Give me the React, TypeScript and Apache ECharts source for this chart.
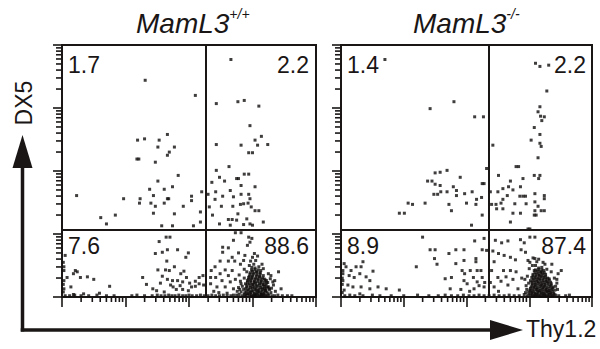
import React, { useEffect, useRef } from "react";
import * as echarts from "echarts";

// Axis scale: log10 fluorescence, 4 decades
const decadeTicks = [0, 1, 2, 3, 4];
const minorMultipliers = [2, 3, 4, 5, 6, 7, 8, 9];

const panelTitles = ["MamL3", "MamL3"];
const panelSups = ["+/+", "-/-"];
const xAxisName = "Thy1.2";
const yAxisName = "DX5";

// quadrant percentages: UL, UR, LL, LR
const quadWT = ["1.7", "2.2", "7.6", "88.6"];
const quadKO = ["1.4", "2.2", "8.9", "87.4"];

// gate positions [x, y] in log decades
const gateWT = [2.27, 1.06];
const gateKO = [2.35, 1.06];

// events [log Thy1.2, log DX5]
const eventsWT: number[][] = [
  // upper-left
  [1.31, 3.44], [2.10, 3.20], [0.23, 1.61], [1.19, 2.49], [1.30, 2.51], [1.53, 2.49], [1.66, 2.58], [1.51, 2.38],
  [1.77, 2.38], [1.69, 2.30], [1.66, 2.25], [1.21, 2.19], [1.18, 2.19], [1.47, 2.14], [1.83, 1.93], [1.51, 1.84],
  [1.38, 1.71], [1.61, 1.71], [1.74, 1.75], [1.44, 1.61], [1.23, 1.56], [1.68, 1.56], [1.66, 1.56], [0.97, 1.56],
  [1.22, 1.49], [1.40, 1.49], [1.47, 1.44], [1.61, 1.49], [1.91, 1.44], [2.04, 1.60], [2.04, 1.53], [2.20, 1.67],
  [1.44, 1.33], [1.77, 1.32], [2.18, 1.35], [0.61, 1.26], [0.84, 1.30], [0.70, 1.16], [1.57, 1.13], [1.74, 1.13],
  [2.07, 1.13], [2.18, 1.19],
  // upper-right
  [2.66, 3.77], [2.43, 3.07], [2.77, 3.10], [2.87, 3.12], [3.10, 3.03], [2.96, 2.72], [3.14, 2.55], [3.04, 2.49],
  [3.08, 2.41], [3.24, 2.42], [2.43, 2.42], [2.82, 2.41], [2.94, 2.29], [3.00, 2.29], [2.63, 2.07], [2.43, 2.01],
  [2.48, 1.90], [2.87, 1.95], [2.94, 1.95], [2.75, 1.88], [2.78, 1.88], [2.36, 1.82], [2.56, 1.84], [2.82, 1.77],
  [3.04, 1.75], [2.65, 1.69], [2.42, 1.67], [2.82, 1.63], [2.94, 1.63], [2.30, 1.63], [2.53, 1.60], [2.70, 1.59],
  [2.96, 1.56], [2.41, 1.55], [2.86, 1.48], [2.81, 1.47], [2.93, 1.49], [2.32, 1.43], [2.51, 1.44], [2.69, 1.44],
  [2.98, 1.43], [3.04, 1.37], [3.10, 1.37], [2.37, 1.30], [2.77, 1.32], [2.62, 1.23], [2.68, 1.23], [2.91, 1.24],
  [2.48, 1.16], [2.65, 1.14], [2.86, 1.15], [2.96, 1.16], [3.00, 1.14], [3.17, 1.19], [2.75, 1.22],
  // lower-left
  [0.05, 0.66], [0.21, 0.42], [0.24, 0.40], [0.18, 0.37], [0.29, 0.31], [0.40, 0.32], [0.50, 0.28], [0.08, 0.31],
  [0.14, 0.16], [0.03, 0.48], [0.03, 0.42], [0.03, 0.26], [0.03, 0.13], [0.02, 0.55], [0.02, 0.20], [0.02, 0.08],
  [1.53, 0.88], [1.64, 0.95], [1.70, 0.95], [1.66, 0.75], [1.82, 0.75], [1.47, 0.69], [1.58, 0.71], [1.99, 0.70],
  [1.95, 0.63], [1.65, 0.57], [1.77, 0.48], [1.51, 0.43], [1.63, 0.43], [1.69, 0.42], [1.87, 0.37], [1.92, 0.41],
  [1.27, 0.31], [1.33, 0.20], [1.58, 0.33], [1.66, 0.28], [1.74, 0.26], [1.82, 0.26], [1.90, 0.24], [1.96, 0.31],
  [2.04, 0.16], [2.10, 0.17], [2.16, 0.31], [2.22, 0.34], [2.16, 0.21], [1.80, 0.12], [1.75, 0.16], [1.43, 0.13],
  [1.49, 0.10], [1.61, 0.08], [1.90, 0.12], [1.99, 0.10], [2.23, 0.19], [2.10, 0.25], [0.75, 0.17], [0.59, 0.06],
  [0.34, 0.05], [0.18, 0.04], [1.71, 0.19], [1.86, 0.18], [2.01, 0.22], [1.55, 0.22],
  // floor of lower quadrants
  [0.05, 0.02], [0.12, 0.02], [0.20, 0.03], [0.30, 0.02], [0.42, 0.02], [0.55, 0.03], [0.70, 0.02], [0.82, 0.02],
  [1.10, 0.02], [1.18, 0.03], [1.30, 0.02], [1.42, 0.02], [1.50, 0.03], [1.56, 0.02], [1.62, 0.02], [1.68, 0.03],
  [1.73, 0.02], [1.78, 0.02], [1.84, 0.03], [1.90, 0.02], [1.95, 0.02], [2.00, 0.03], [2.05, 0.02], [2.12, 0.02],
  [2.18, 0.03], [2.24, 0.02], [2.30, 0.02], [2.36, 0.03], [2.42, 0.02], [2.48, 0.02], [2.54, 0.03], [2.60, 0.02],
  [2.66, 0.02], [2.70, 0.03], [3.35, 0.02], [3.40, 0.03], [3.47, 0.02], [3.55, 0.02], [3.62, 0.02],
  // lower-right
  [2.94, 0.95], [2.99, 0.93], [2.96, 0.87], [2.92, 0.82], [2.73, 1.02], [2.82, 1.02], [2.70, 0.90], [2.53, 0.79],
  [2.62, 0.78], [2.53, 0.71], [2.78, 0.70], [2.68, 0.63], [2.88, 0.66], [2.86, 0.58], [2.62, 0.57], [2.72, 0.57],
  [2.81, 0.52], [2.49, 0.57], [2.41, 0.48], [2.57, 0.43], [2.68, 0.42], [2.35, 0.42], [2.49, 0.37], [2.62, 0.34],
  [2.34, 0.31], [2.42, 0.31], [2.52, 0.26], [2.34, 0.21], [2.44, 0.16], [2.57, 0.16], [2.65, 0.24], [2.73, 0.28],
  [2.70, 0.13], [2.82, 0.21], [3.41, 0.40], [3.45, 0.13], [3.35, 0.26], [3.29, 0.34], [3.22, 0.26], [3.25, 0.16],
  [2.76, 0.09], [2.79, 0.35], [2.87, 0.44], [2.39, 0.09], [2.47, 0.07], [2.60, 0.06],
  // lower-right dense cluster
  [2.95, 0.03], [3.01, 0.02], [3.06, 0.04], [3.11, 0.02], [3.16, 0.03], [3.21, 0.02], [2.90, 0.03], [2.84, 0.02],
  [2.79, 0.04], [3.26, 0.03], [3.31, 0.02], [2.75, 0.03], [2.97, 0.07], [3.03, 0.06], [3.08, 0.08], [3.13, 0.07],
  [3.18, 0.06], [3.23, 0.08], [2.88, 0.07], [2.82, 0.08], [3.29, 0.07], [2.93, 0.11], [2.99, 0.10], [3.04, 0.12],
  [3.09, 0.11], [3.15, 0.12], [3.20, 0.10], [3.27, 0.12], [2.86, 0.12], [2.97, 0.15], [3.02, 0.16], [3.07, 0.17],
  [3.13, 0.15], [3.19, 0.17], [2.91, 0.16], [3.24, 0.16], [2.84, 0.17], [2.95, 0.21], [3.00, 0.20], [3.05, 0.22],
  [3.11, 0.21], [3.17, 0.20], [3.22, 0.22], [2.89, 0.21], [2.97, 0.26], [3.03, 0.25], [3.09, 0.27], [3.14, 0.25],
  [3.20, 0.27], [2.92, 0.26], [2.99, 0.31], [3.05, 0.30], [3.11, 0.32], [3.16, 0.30], [2.94, 0.31], [3.01, 0.36],
  [3.07, 0.35], [3.12, 0.37], [2.96, 0.36], [3.00, 0.41], [3.06, 0.40], [3.13, 0.42], [2.99, 0.47], [3.04, 0.46],
  [3.02, 0.52], [2.97, 0.57], [3.00, 0.63], [3.03, 0.69], [3.10, 0.48], [3.17, 0.45], [2.91, 0.40], [3.25, 0.37],
  [3.28, 0.29], [2.87, 0.30], [3.33, 0.19], [3.36, 0.09], [3.04, 0.02], [3.14, 0.04], [2.93, 0.05], [3.19, 0.13],
  [2.87, 0.045], [2.92, 0.05], [2.98, 0.04], [3.03, 0.045], [3.08, 0.05], [3.135, 0.04], [3.185, 0.045], [3.24, 0.05],
  [2.895, 0.135], [2.945, 0.13], [3.0, 0.14], [3.055, 0.135], [3.105, 0.13], [3.16, 0.14], [3.21, 0.135], [3.26, 0.13],
  [2.92, 0.23], [2.975, 0.235], [3.025, 0.23], [3.08, 0.24], [3.13, 0.23], [3.185, 0.235], [3.24, 0.23],
  [2.95, 0.33], [3.0, 0.33], [3.06, 0.335], [3.115, 0.33], [3.17, 0.34], [2.985, 0.43], [3.04, 0.435], [3.09, 0.43],
  [2.80, 0.12], [2.81, 0.25], [2.78, 0.15], [3.30, 0.14], [3.32, 0.24], [3.05, 0.58], [3.08, 0.65], [2.95, 0.50],
  [3.15, 0.52],
  // dense core (overlapping events)
  [2.905, 0.09], [2.955, 0.085], [3.005, 0.09], [3.055, 0.095], [3.105, 0.085], [3.155, 0.09], [3.205, 0.095],
  [2.91, 0.185], [2.96, 0.18], [3.01, 0.19], [3.06, 0.185], [3.11, 0.18], [3.16, 0.19], [3.21, 0.185],
  [2.935, 0.28], [2.985, 0.285], [3.035, 0.28], [3.085, 0.29], [3.135, 0.28], [3.185, 0.285],
  [2.965, 0.385], [3.02, 0.38], [3.07, 0.39], [3.12, 0.385], [2.98, 0.015], [3.08, 0.015], [3.18, 0.015],
  [3.03, 0.012], [3.13, 0.012], [2.88, 0.015], [3.23, 0.015],
];

const eventsKO: number[][] = [
  // upper-left
  [0.70, 3.77], [1.80, 3.10], [1.42, 2.99], [2.13, 2.86], [2.27, 2.86], [1.50, 1.97], [1.58, 1.98], [1.69, 2.01],
  [1.90, 1.90], [1.38, 1.84], [1.45, 1.84], [1.50, 1.79], [1.58, 1.77], [1.79, 1.75], [1.84, 1.69], [1.48, 1.63],
  [1.54, 1.63], [1.59, 1.67], [1.69, 1.67], [1.84, 1.61], [1.97, 1.64], [2.09, 1.67], [2.16, 1.55], [2.24, 1.58],
  [2.25, 1.80], [2.28, 1.80], [1.34, 1.49], [1.07, 1.49], [1.14, 1.47], [1.72, 1.47], [2.00, 1.49], [2.15, 1.47],
  [0.93, 1.33], [1.01, 1.33], [1.76, 1.37], [2.25, 1.30], [2.08, 1.14], [2.32, 2.04],
  // upper-right
  [3.10, 3.71], [3.17, 3.66], [3.31, 3.68], [3.28, 3.27], [3.17, 3.02], [3.14, 2.94], [3.18, 2.87], [3.24, 2.86],
  [3.20, 2.80], [3.08, 2.69], [3.17, 2.58], [3.03, 2.49], [3.17, 2.44], [3.19, 2.39], [2.42, 2.41], [3.14, 2.21],
  [2.79, 2.07], [2.83, 2.07], [2.51, 1.93], [3.08, 1.93], [3.17, 1.93], [2.90, 1.88], [3.15, 1.88], [2.70, 1.84],
  [2.67, 1.75], [2.74, 1.70], [2.86, 1.75], [2.58, 1.72], [2.50, 1.67], [2.38, 1.67], [2.65, 1.61], [2.85, 1.60],
  [2.90, 1.60], [2.94, 1.60], [3.09, 1.64], [3.24, 1.61], [3.24, 1.56], [2.58, 1.55], [2.40, 1.47], [2.47, 1.47],
  [2.55, 1.49], [2.77, 1.48], [2.95, 1.48], [3.09, 1.51], [2.48, 1.40], [2.58, 1.40], [3.14, 1.44], [3.09, 1.37],
  [3.19, 1.37], [3.24, 1.37], [2.74, 1.33], [2.86, 1.33], [3.08, 1.30], [3.11, 1.30], [2.70, 1.19], [2.98, 1.08],
  [3.01, 1.08],
  // lower-left
  [1.30, 0.95], [1.42, 0.75], [1.50, 0.75], [1.49, 0.61], [1.53, 0.52], [1.20, 0.48], [1.72, 0.69], [1.83, 0.75],
  [1.96, 0.75], [2.13, 0.89], [2.28, 0.93], [2.25, 0.75], [2.32, 0.74], [2.15, 0.61], [2.15, 0.56], [1.96, 0.58],
  [1.83, 0.53], [1.93, 0.42], [1.97, 0.37], [2.06, 0.42], [2.17, 0.42], [2.23, 0.42], [2.11, 0.31], [2.25, 0.31],
  [1.76, 0.31], [1.96, 0.26], [2.01, 0.21], [2.12, 0.13], [2.28, 0.16], [1.74, 0.13], [1.91, 0.12], [2.17, 0.24],
  [1.66, 0.29], [2.29, 0.23], [2.20, 0.18], [2.05, 0.09],
  [0.05, 0.53], [0.08, 0.48], [0.16, 0.42], [0.24, 0.48], [0.35, 0.56], [0.32, 0.48], [0.13, 0.34], [0.21, 0.31],
  [0.30, 0.37], [0.40, 0.32], [0.51, 0.41], [0.46, 0.26], [0.03, 0.26], [0.11, 0.19], [0.19, 0.16], [0.32, 0.16],
  [0.46, 0.13], [0.59, 0.16], [0.72, 0.13], [0.93, 0.11], [0.30, 0.05], [0.05, 0.11], [0.03, 0.37], [0.03, 0.42],
  [0.02, 0.20], [0.02, 0.30], [0.02, 0.07],
  // floor of lower quadrants
  [0.06, 0.02], [0.14, 0.03], [0.22, 0.02], [0.35, 0.02], [0.50, 0.03], [0.62, 0.02], [0.80, 0.02], [1.00, 0.02],
  [1.22, 0.03], [1.40, 0.02], [1.55, 0.02], [1.66, 0.03], [1.76, 0.02], [1.86, 0.02], [1.95, 0.03], [2.04, 0.02],
  [2.12, 0.02], [2.20, 0.03], [2.28, 0.02], [2.36, 0.02], [2.44, 0.03], [2.52, 0.02], [2.60, 0.02], [2.68, 0.03],
  [2.76, 0.02], [2.84, 0.02], [3.58, 0.02], [3.64, 0.03],
  // lower-right
  [2.66, 0.89], [2.86, 0.91], [3.01, 0.95], [3.09, 0.95], [2.42, 0.73], [2.51, 0.69], [2.60, 0.66], [2.70, 0.63],
  [2.78, 0.59], [2.87, 0.75], [2.94, 0.71], [2.98, 0.58], [3.09, 0.61], [3.25, 0.52], [3.36, 0.52], [3.51, 0.42],
  [3.46, 0.37], [2.44, 0.56], [2.40, 0.42], [2.50, 0.31], [2.59, 0.42], [2.70, 0.42], [2.79, 0.40], [2.55, 0.25],
  [2.66, 0.19], [2.74, 0.28], [2.44, 0.16], [2.82, 0.13], [2.46, 0.90], [2.56, 0.86], [2.92, 0.86], [2.63, 0.32],
  [2.88, 0.30], [2.38, 0.23], [2.51, 0.09],
  // lower-right dense cluster
  [3.02, 0.03], [3.07, 0.02], [3.12, 0.04], [3.17, 0.02], [3.22, 0.03], [3.27, 0.02], [3.32, 0.04], [3.37, 0.02],
  [3.42, 0.03], [2.97, 0.02], [2.92, 0.04], [3.47, 0.02], [3.04, 0.07], [3.09, 0.06], [3.14, 0.08], [3.19, 0.07],
  [3.24, 0.06], [3.29, 0.08], [3.34, 0.07], [3.39, 0.06], [2.99, 0.08], [2.94, 0.07], [3.06, 0.11], [3.11, 0.12],
  [3.16, 0.10], [3.21, 0.12], [3.26, 0.11], [3.31, 0.10], [3.36, 0.12], [3.01, 0.11], [2.96, 0.12], [3.41, 0.11],
  [3.08, 0.16], [3.13, 0.15], [3.18, 0.17], [3.23, 0.16], [3.28, 0.15], [3.33, 0.17], [3.03, 0.16], [3.38, 0.16],
  [3.05, 0.21], [3.10, 0.20], [3.15, 0.22], [3.20, 0.21], [3.25, 0.20], [3.30, 0.22], [3.35, 0.21], [2.99, 0.22],
  [3.07, 0.26], [3.12, 0.25], [3.17, 0.27], [3.22, 0.26], [3.27, 0.25], [3.32, 0.27], [3.02, 0.26], [3.09, 0.31],
  [3.14, 0.30], [3.19, 0.32], [3.24, 0.31], [3.29, 0.30], [3.04, 0.31], [3.11, 0.36], [3.16, 0.35], [3.21, 0.37],
  [3.26, 0.36], [3.06, 0.36], [3.13, 0.41], [3.18, 0.40], [3.23, 0.42], [3.08, 0.42], [3.15, 0.46], [3.20, 0.47],
  [3.10, 0.50], [3.28, 0.44], [3.00, 0.45], [3.35, 0.40], [3.40, 0.30], [3.44, 0.22], [3.45, 0.12], [2.97, 0.33],
  [3.01, 0.55], [3.12, 0.56], [3.06, 0.62],
  [2.995, 0.045], [3.045, 0.05], [3.095, 0.04], [3.145, 0.045], [3.195, 0.05], [3.245, 0.04], [3.295, 0.045], [3.345, 0.05],
  [3.395, 0.04], [3.02, 0.135], [3.07, 0.14], [3.12, 0.13], [3.17, 0.135], [3.22, 0.14], [3.27, 0.13], [3.32, 0.135],
  [3.37, 0.14], [3.04, 0.235], [3.09, 0.23], [3.14, 0.24], [3.19, 0.235], [3.24, 0.23], [3.29, 0.24], [3.34, 0.235],
  [3.06, 0.335], [3.11, 0.33], [3.16, 0.34], [3.21, 0.335], [3.26, 0.33], [3.10, 0.43], [3.15, 0.435], [3.20, 0.43],
  [2.95, 0.18], [2.93, 0.28], [3.42, 0.17], [3.44, 0.28], [3.05, 0.50], [3.22, 0.55], [3.15, 0.60],
  // dense core (overlapping events)
  [3.025, 0.09], [3.075, 0.085], [3.125, 0.09], [3.175, 0.095], [3.225, 0.085], [3.275, 0.09], [3.325, 0.095], [3.375, 0.09],
  [3.045, 0.185], [3.095, 0.18], [3.145, 0.19], [3.195, 0.185], [3.245, 0.18], [3.295, 0.19], [3.345, 0.185],
  [3.065, 0.285], [3.115, 0.28], [3.165, 0.29], [3.215, 0.285], [3.265, 0.28], [3.315, 0.29],
  [3.09, 0.385], [3.14, 0.38], [3.19, 0.39], [3.24, 0.385], [3.05, 0.015], [3.15, 0.015], [3.25, 0.015],
  [3.35, 0.015], [3.10, 0.012], [3.20, 0.012], [3.30, 0.012],
];

const FONT = "'Liberation Sans', Arial, Helvetica, sans-serif";
const INK = "#1a1616";

const minorTicks: number[] = [];
decadeTicks.slice(0, -1).forEach((d) => {
  minorMultipliers.forEach((m) => minorTicks.push(d + Math.log10(m)));
});

function axisFor(gridIndex: number, dim: "x" | "y") {
  return {
    gridIndex,
    type: "value" as const,
    min: 0,
    max: 4,
    interval: 1,
    position: dim === "x" ? "bottom" : "left",
    axisLine: { show: false },
    axisLabel: { show: false },
    splitLine: { show: false },
    axisTick: {
      show: true,
      inside: false,
      length: dim === "x" ? 10 : 9,
      customValues: decadeTicks,
      lineStyle: { color: INK, width: 1.6 },
    },
  };
}

// minor (log-spaced) ticks on both axes of a panel, placed through the axis scale
function minorTickSeries(axisIndex: number) {
  return {
    type: "custom",
    xAxisIndex: axisIndex,
    yAxisIndex: axisIndex,
    clip: false,
    silent: true,
    z: 10,
    data: [...minorTicks.map((v) => [v, 0]), ...minorTicks.map((v) => [v, 1])],
    renderItem: (_params: any, api: any) => {
      const v = api.value(0);
      const isY = api.value(1) === 1;
      const p = isY ? api.coord([0, v]) : api.coord([v, 0]);
      const shape = isY
        ? { x1: p[0] - 6, y1: p[1], x2: p[0], y2: p[1] }
        : { x1: p[0], y1: p[1], x2: p[0], y2: p[1] + 5 };
      return { type: "line", shape, style: { stroke: INK, lineWidth: 1.6 } };
    },
  };
}

function scatterSeries(data: number[][], gate: number[], axisIndex: number) {
  return {
    type: "scatter",
    xAxisIndex: axisIndex,
    yAxisIndex: axisIndex,
    data,
    symbol: "rect",
    symbolSize: 3,
    itemStyle: { color: "#100c0c" },
    silent: true,
    markLine: {
      silent: true,
      symbol: "none",
      label: { show: false },
      lineStyle: { color: INK, width: 2, type: "solid" },
      data: [{ xAxis: gate[0] }, { yAxis: gate[1] }],
    },
  };
}

function quadText(labels: string[], left: number, right: number) {
  const rows = [65, 246];
  return labels.map((t, i) => ({
    type: "text",
    x: i % 2 === 0 ? left : right,
    y: rows[Math.floor(i / 2)],
    style: {
      text: t,
      font: `23px ${FONT}`,
      fill: INK,
      align: i % 2 === 0 ? "left" : "right",
      verticalAlign: "middle",
    },
  }));
}

function titleText(title: string, sup: string, x: number) {
  return {
    type: "text",
    x,
    y: 23,
    style: {
      text: `{a|${title}}{b|${sup}}`,
      align: "left",
      verticalAlign: "middle",
      rich: {
        a: { fontSize: 28, fontStyle: "italic", fontFamily: FONT, fill: INK, lineHeight: 32 },
        b: { fontSize: 14, fontStyle: "italic", fontFamily: FONT, fill: INK, verticalAlign: "top", lineHeight: 17 },
      },
    },
  };
}

export default function App() {
  const ref = useRef<HTMLDivElement>(null);
  useEffect(() => {
    if (!ref.current) return;
    const chart = echarts.init(ref.current, null, { renderer: "svg" });
    const grids = [
      { left: 62, top: 45, width: 254, height: 252 },
      { left: 341, top: 45, width: 251, height: 252 },
    ].map((g) => ({ ...g, show: true, borderColor: INK, borderWidth: 2, backgroundColor: "transparent" }));

    chart.setOption({
      animation: false,
      backgroundColor: "#ffffff",
      grid: grids,
      xAxis: [axisFor(0, "x"), axisFor(1, "x")],
      yAxis: [axisFor(0, "y"), axisFor(1, "y")],
      series: [
        scatterSeries(eventsWT, gateWT, 0),
        scatterSeries(eventsKO, gateKO, 1),
        minorTickSeries(0),
        minorTickSeries(1),
      ],
      graphic: [
        titleText(panelTitles[0], panelSups[0], 136),
        titleText(panelTitles[1], panelSups[1], 413),
        ...quadText(quadWT, 68, 309),
        ...quadText(quadKO, 347, 586),
        // vertical arrow
        { type: "line", shape: { x1: 22.5, y1: 331.5, x2: 22.5, y2: 165 }, style: { stroke: INK, lineWidth: 3.5 } },
        { type: "polygon", shape: { points: [[22.5, 135], [12.5, 168], [32.5, 168]] }, style: { fill: INK } },
        // horizontal arrow
        { type: "line", shape: { x1: 20.75, y1: 330, x2: 492, y2: 330 }, style: { stroke: INK, lineWidth: 3.5 } },
        { type: "polygon", shape: { points: [[523, 330], [490, 320], [490, 340]] }, style: { fill: INK } },
        {
          type: "text",
          x: 526,
          y: 329,
          style: { text: xAxisName, font: `23px ${FONT}`, fill: INK, align: "left", verticalAlign: "middle" },
        },
        {
          type: "text",
          x: 24,
          y: 103,
          rotation: Math.PI / 2,
          style: { text: yAxisName, font: `23px ${FONT}`, fill: INK, align: "center", verticalAlign: "middle" },
        },
      ],
    });
    return () => chart.dispose();
  }, []);
  return <div ref={ref} style={{ position: "fixed", left: 0, top: 0, width: 600, height: 349 }} />;
}
